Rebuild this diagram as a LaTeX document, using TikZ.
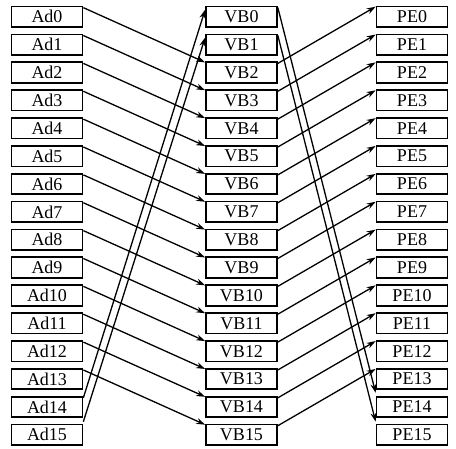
\documentclass[tikz,border=0pt]{standalone}
\usepackage{fontspec}
\setmainfont{Liberation Serif}
\usetikzlibrary{arrows.meta}
\begin{document}
\begin{tikzpicture}[x=1pt,y=-1pt,
  box/.style={draw=black,line width=1.7pt,minimum width=71pt,minimum height=20.5pt,inner sep=0pt,
    font=\fontsize{18}{18}\selectfont},
  conn/.style={line width=1.3pt,-{Stealth[length=9pt,width=6pt]}}]
\useasboundingbox (0,0) rectangle (456,448);
\foreach \i in {0,...,15}{
  \pgfmathsetmacro{\yy}{16.75+27.87*\i}
  \node[box] (a\i) at (47,\yy) {Ad\i};
  \node[box] (v\i) at (241.5,\yy) {VB\i};
  \node[box] (p\i) at (412,\yy) {PE\i};
}
\foreach \i in {0,...,13}{
  \pgfmathtruncatemacro{\j}{\i+2}
  \draw[conn] ([yshift=-2pt]a\i.north east) -- ([yshift=-1pt]v\j.north west);
  \draw[conn] ([yshift=-2pt]v\j.north east) -- ([yshift=-1pt]p\i.north west);
}
\draw[conn] ([yshift=-2pt]a14.north east) -- ([yshift=-4pt]v0.north west);
\draw[conn] ([yshift=2pt]a15.north east) -- ([yshift=-4pt]v1.north west);
\draw[conn] ([yshift=-2pt]v0.north east) -- ([yshift=3pt]p14.north west);
\draw[conn] ([yshift=-2pt]v1.north east) -- ([yshift=2pt]p15.north west);
\end{tikzpicture}
\end{document}
